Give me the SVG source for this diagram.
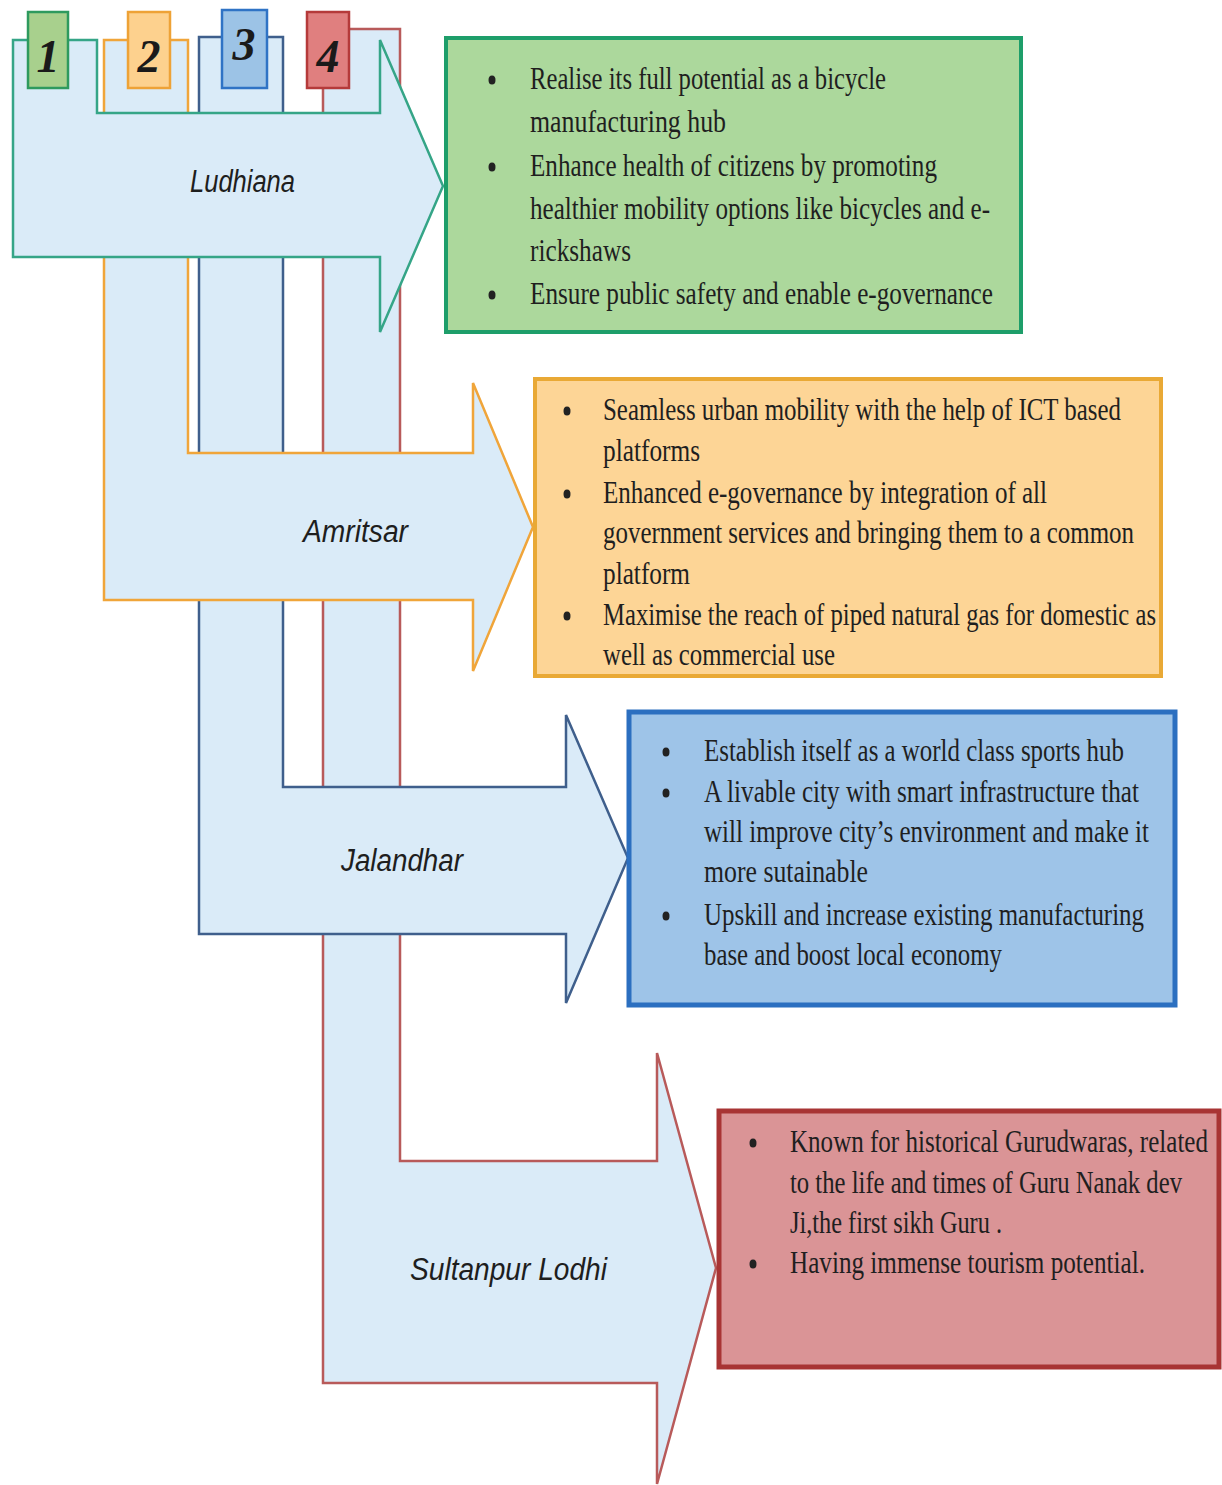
<svg xmlns="http://www.w3.org/2000/svg" width="1222" height="1485" viewBox="0 0 1222 1485">
<style>
.arrow{fill:#daebf8;stroke-width:2.5;stroke-linejoin:miter}
.a1{stroke:#35a587}
.a2{stroke:#f0a53a}
.a3{stroke:#3f5f8c}
.a4{stroke:#b85a5a}
.city{font-family:"Liberation Sans",Arial,sans-serif;font-style:italic;font-size:31px;fill:#1e1e1e}
.num{font-family:"Liberation Serif","Times New Roman",serif;font-style:italic;font-weight:bold;font-size:46px;fill:#1a1a1a;text-anchor:middle}
.tx{font-family:"Liberation Serif","Times New Roman",serif;font-size:23px;fill:#1f1f1f}
.bul{fill:#222}
</style>
<rect width="1222" height="1485" fill="#ffffff"/>

<!-- arrows, drawn back to front -->
<g id="node-sultanpur-lodhi">
  <path class="arrow a4" d="M323,29 L400,29 L400,1161 L657,1161 L657,1053 L716,1268 L657,1484 L657,1383 L323,1383 Z"/>
  <text class="city" x="410" y="1280" textLength="197" lengthAdjust="spacingAndGlyphs">Sultanpur Lodhi</text>
</g>
<g id="node-jalandhar">
  <path class="arrow a3" d="M199,37 L283,37 L283,787 L566,787 L566,715 L628,858 L566,1003 L566,934 L199,934 Z"/>
  <text class="city" x="341" y="871" textLength="122" lengthAdjust="spacingAndGlyphs">Jalandhar</text>
</g>
<g id="node-amritsar">
  <path class="arrow a2" d="M104,40 L188,40 L188,453 L473,453 L473,383 L533,527 L473,671 L473,600 L104,600 Z"/>
  <text class="city" x="303" y="542" textLength="105" lengthAdjust="spacingAndGlyphs">Amritsar</text>
</g>
<g id="node-ludhiana">
  <path class="arrow a1" d="M13,40 L97,40 L97,113 L380,113 L380,40 L443,186 L380,332 L380,257 L13,257 Z"/>
  <text class="city" x="190" y="192" textLength="105" lengthAdjust="spacingAndGlyphs">Ludhiana</text>
</g>

<!-- number tabs -->
<g id="tab-1">
  <rect x="28" y="12" width="40" height="76" fill="#a8d08d" stroke="#2e9a5e" stroke-width="2.5"/>
  <text class="num" x="48" y="72">1</text>
</g>
<g id="tab-2">
  <rect x="128" y="12" width="42" height="76" fill="#fdd18e" stroke="#eea236" stroke-width="2.5"/>
  <text class="num" x="149" y="72">2</text>
</g>
<g id="tab-3">
  <rect x="222" y="10" width="45" height="78" fill="#9cc3e6" stroke="#2f73c5" stroke-width="2.5"/>
  <text class="num" x="244" y="60">3</text>
</g>
<g id="tab-4">
  <rect x="307" y="12" width="42" height="76" fill="#e07f7f" stroke="#b53a3a" stroke-width="2.5"/>
  <text class="num" x="328" y="72">4</text>
</g>

<!-- text boxes -->
<g id="box-ludhiana">
  <rect x="446" y="38" width="575" height="294" fill="#acd89c" stroke="#1e9e6a" stroke-width="4"/>
  <ellipse class="bul" cx="492" cy="80" rx="3.5" ry="4.5"/>
  <ellipse class="bul" cx="492" cy="167" rx="3.5" ry="4.5"/>
  <ellipse class="bul" cx="492" cy="295" rx="3.5" ry="4.5"/>
  <text class="tx" x="0" y="0" transform="translate(530,89) scale(1,1.4)" textLength="356" lengthAdjust="spacingAndGlyphs">Realise its full potential as a bicycle</text>
  <text class="tx" x="0" y="0" transform="translate(530,132) scale(1,1.4)" textLength="196" lengthAdjust="spacingAndGlyphs">manufacturing hub</text>
  <text class="tx" x="0" y="0" transform="translate(530,176) scale(1,1.4)" textLength="407" lengthAdjust="spacingAndGlyphs">Enhance health of citizens by promoting</text>
  <text class="tx" x="0" y="0" transform="translate(530,219) scale(1,1.4)" textLength="460" lengthAdjust="spacingAndGlyphs">healthier mobility options like bicycles and e-</text>
  <text class="tx" x="0" y="0" transform="translate(530,261) scale(1,1.4)" textLength="101" lengthAdjust="spacingAndGlyphs">rickshaws</text>
  <text class="tx" x="0" y="0" transform="translate(530,304) scale(1,1.4)" textLength="463" lengthAdjust="spacingAndGlyphs">Ensure public safety and enable e-governance</text>
</g>
<g id="box-amritsar">
  <rect x="535" y="379" width="626" height="297" fill="#fdd596" stroke="#e9a935" stroke-width="4"/>
  <ellipse class="bul" cx="567" cy="411" rx="3.5" ry="4.5"/>
  <ellipse class="bul" cx="567" cy="494" rx="3.5" ry="4.5"/>
  <ellipse class="bul" cx="567" cy="616" rx="3.5" ry="4.5"/>
  <text class="tx" x="0" y="0" transform="translate(603,420) scale(1,1.4)" textLength="518" lengthAdjust="spacingAndGlyphs">Seamless urban mobility with the help of ICT based</text>
  <text class="tx" x="0" y="0" transform="translate(603,461) scale(1,1.4)" textLength="97" lengthAdjust="spacingAndGlyphs">platforms</text>
  <text class="tx" x="0" y="0" transform="translate(603,503) scale(1,1.4)" textLength="444" lengthAdjust="spacingAndGlyphs">Enhanced e-governance by integration of all</text>
  <text class="tx" x="0" y="0" transform="translate(603,543) scale(1,1.4)" textLength="531" lengthAdjust="spacingAndGlyphs">government services and bringing them to a common</text>
  <text class="tx" x="0" y="0" transform="translate(603,584) scale(1,1.4)" textLength="87" lengthAdjust="spacingAndGlyphs">platform</text>
  <text class="tx" x="0" y="0" transform="translate(603,625) scale(1,1.4)" textLength="553" lengthAdjust="spacingAndGlyphs">Maximise the reach of piped natural gas for domestic as</text>
  <text class="tx" x="0" y="0" transform="translate(603,665) scale(1,1.4)" textLength="232" lengthAdjust="spacingAndGlyphs">well as commercial use</text>
</g>
<g id="box-jalandhar">
  <rect x="629" y="712" width="546" height="293" fill="#9ec4e8" stroke="#2b6fc0" stroke-width="5"/>
  <ellipse class="bul" cx="666" cy="752" rx="3.5" ry="4.5"/>
  <ellipse class="bul" cx="666" cy="793" rx="3.5" ry="4.5"/>
  <ellipse class="bul" cx="666" cy="916" rx="3.5" ry="4.5"/>
  <text class="tx" x="0" y="0" transform="translate(704,761) scale(1,1.4)" textLength="420" lengthAdjust="spacingAndGlyphs">Establish itself as a world class sports hub</text>
  <text class="tx" x="0" y="0" transform="translate(704,802) scale(1,1.4)" textLength="435" lengthAdjust="spacingAndGlyphs">A livable city with smart infrastructure that</text>
  <text class="tx" x="0" y="0" transform="translate(704,842) scale(1,1.4)" textLength="445" lengthAdjust="spacingAndGlyphs">will improve city’s environment and make it</text>
  <text class="tx" x="0" y="0" transform="translate(704,882) scale(1,1.4)" textLength="164" lengthAdjust="spacingAndGlyphs">more sutainable</text>
  <text class="tx" x="0" y="0" transform="translate(704,925) scale(1,1.4)" textLength="440" lengthAdjust="spacingAndGlyphs">Upskill and increase existing manufacturing</text>
  <text class="tx" x="0" y="0" transform="translate(704,965) scale(1,1.4)" textLength="298" lengthAdjust="spacingAndGlyphs">base and boost local economy</text>
</g>
<g id="box-sultanpur-lodhi">
  <rect x="719" y="1111" width="500" height="256" fill="#da9496" stroke="#a83434" stroke-width="5"/>
  <ellipse class="bul" cx="753" cy="1143" rx="3.5" ry="4.5"/>
  <ellipse class="bul" cx="753" cy="1264" rx="3.5" ry="4.5"/>
  <text class="tx" x="0" y="0" transform="translate(790,1152) scale(1,1.4)" textLength="418" lengthAdjust="spacingAndGlyphs">Known for historical Gurudwaras, related</text>
  <text class="tx" x="0" y="0" transform="translate(790,1193) scale(1,1.4)" textLength="392" lengthAdjust="spacingAndGlyphs">to the life and times of Guru Nanak dev</text>
  <text class="tx" x="0" y="0" transform="translate(790,1233) scale(1,1.4)" textLength="212" lengthAdjust="spacingAndGlyphs">Ji,the first sikh Guru .</text>
  <text class="tx" x="0" y="0" transform="translate(790,1273) scale(1,1.4)" textLength="355" lengthAdjust="spacingAndGlyphs">Having immense tourism potential.</text>
</g>

<g id="connectors"></g>
</svg>
